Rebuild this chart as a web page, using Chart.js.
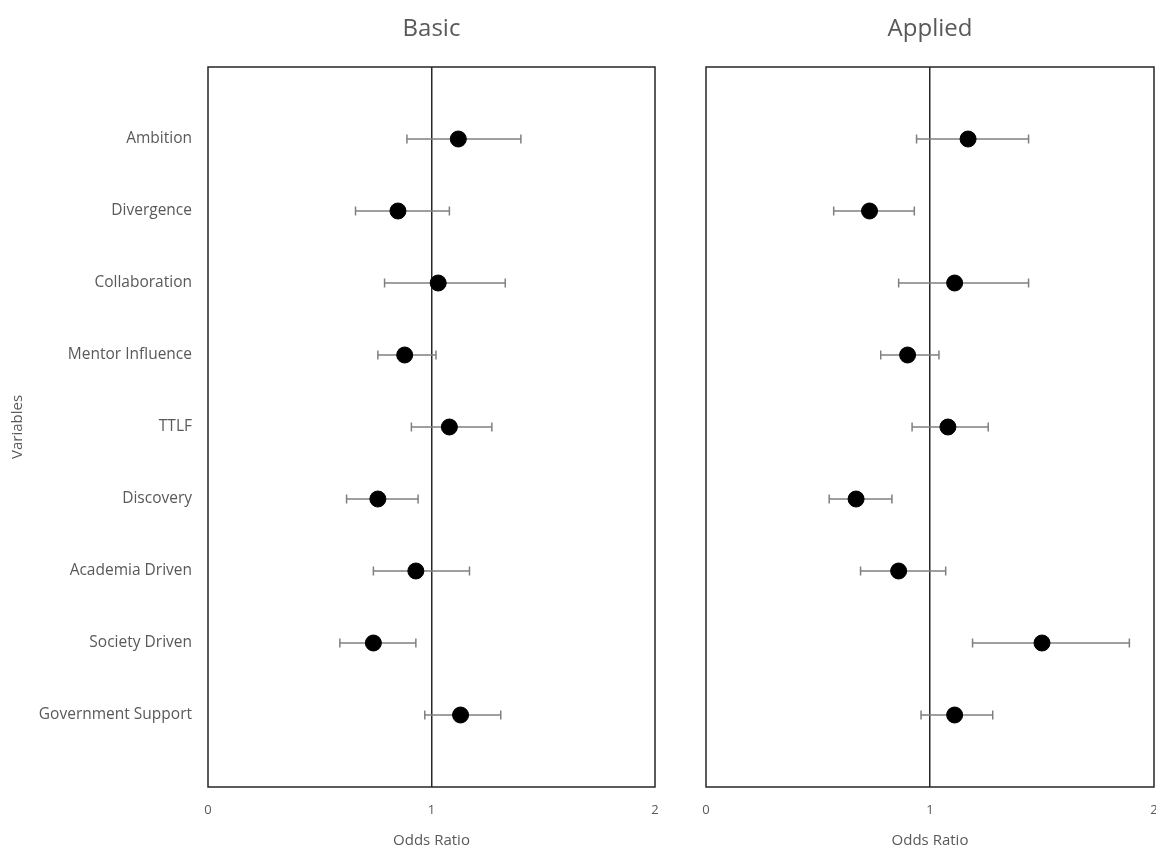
<!DOCTYPE html>
<html>
<head>
<meta charset="utf-8">
<script src="https://cdn.jsdelivr.net/npm/chart.js@4.4.1/dist/chart.umd.min.js"></script>
<style>
  html, body { margin: 0; padding: 0; background: #fff; overflow: hidden; }
  .wrap { position: relative; width: 1156px; height: 850px; overflow: hidden; }
  #basicWrap { position: absolute; left: 0; top: 0; width: 680px; height: 850px; }
  #appliedWrap { position: absolute; left: 680px; top: 0; width: 483px; height: 850px; }
  canvas { display: block; }
</style>
</head>
<body>
<div class="wrap">
  <div id="basicWrap"><canvas id="basicChart"></canvas></div>
  <div id="appliedWrap"><canvas id="appliedChart"></canvas></div>
</div>
<script>
const variables = ['Ambition', 'Divergence', 'Collaboration', 'Mentor Influence', 'TTLF',
  'Discovery', 'Academia Driven', 'Society Driven', 'Government Support'];
const xTicks = [0, 1, 2];

const basicOR = [1.12, 0.85, 1.03, 0.88, 1.08, 0.76, 0.93, 0.74, 1.13];
const basicLow = [0.89, 0.66, 0.79, 0.76, 0.91, 0.62, 0.74, 0.59, 0.97];
const basicHigh = [1.40, 1.08, 1.33, 1.02, 1.27, 0.94, 1.17, 0.93, 1.31];

const appliedOR = [1.17, 0.73, 1.11, 0.90, 1.08, 0.67, 0.86, 1.50, 1.11];
const appliedLow = [0.94, 0.57, 0.86, 0.78, 0.92, 0.55, 0.69, 1.19, 0.96];
const appliedHigh = [1.44, 0.93, 1.44, 1.04, 1.26, 0.83, 1.07, 1.89, 1.28];

const textColor = '#595959';
const fontFamily = '"Open Sans", Lato, sans-serif';

// box around the plot area
const frame = {
  id: 'frame',
  afterDraw(chart) {
    const { ctx, chartArea: a } = chart;
    ctx.save();
    ctx.strokeStyle = '#262626';
    ctx.lineWidth = 1.5;
    ctx.strokeRect(a.left, a.top, a.right - a.left, a.bottom - a.top);
    ctx.restore();
  }
};

const buildDatasets = (or, low, high) => {
  const bars = variables.map((name, i) => ({
    type: 'line',
    label: name,
    data: [{ x: low[i], y: i + 1 }, { x: high[i], y: i + 1 }],
    borderColor: '#7f7f7f',
    borderWidth: 1.5,
    pointStyle: 'line',
    rotation: 90,
    pointRadius: 4.5,
    pointBorderColor: '#7f7f7f',
    pointBorderWidth: 1.5,
    order: 2
  }));
  const points = {
    type: 'scatter',
    label: 'Odds Ratio',
    data: or.map((v, i) => ({ x: v, y: i + 1 })),
    backgroundColor: '#000',
    borderColor: '#000',
    pointRadius: 8,
    order: 1
  };
  return [points, ...bars];
};

const makeChart = (id, title, or, low, high, showY) => {
  const ctx = document.getElementById(id).getContext('2d');
  return new Chart(ctx, {
    type: 'scatter',
    data: { datasets: buildDatasets(or, low, high) },
    plugins: [frame],
    options: {
      responsive: true,
      maintainAspectRatio: false,
      animation: false,
      layout: {
        padding: showY ? { left: 0, right: 25, top: 0, bottom: 0 } : { left: 26, right: 2, top: 0, bottom: 0 }
      },
      plugins: {
        legend: { display: false },
        tooltip: { enabled: false }
      },
      scales: {
        // top axis only carries the panel title, centred over the plot area
        top: {
          type: 'linear',
          position: 'top',
          min: 0,
          max: 2,
          afterFit: (scale) => { scale.height = 67; },
          border: { display: false },
          grid: { display: false, drawTicks: false },
          ticks: { display: false },
          title: {
            display: true,
            text: title,
            color: textColor,
            font: { family: fontFamily, size: 24 },
            padding: { top: 15, bottom: 0 }
          }
        },
        x: {
          type: 'linear',
          position: 'bottom',
          min: 0,
          max: 2,
          afterBuildTicks: (scale) => { scale.ticks = xTicks.map((v) => ({ value: v })); },
          afterFit: (scale) => {
            scale.height = 63;
            scale.paddingLeft = 0;
            scale.paddingRight = 0;
          },
          border: { display: false },
          grid: {
            drawTicks: false,
            color: (c) => (c.tick && c.tick.value === 1 ? '#262626' : 'rgba(0,0,0,0)'),
            lineWidth: 1.5
          },
          ticks: {
            color: textColor,
            font: { family: fontFamily, size: 13 },
            padding: 15,
            maxRotation: 0
          },
          title: {
            display: true,
            text: 'Odds Ratio',
            color: textColor,
            font: { family: fontFamily, size: 15 },
            padding: { top: 0, bottom: 0 }
          }
        },
        y: {
          type: 'linear',
          display: showY,
          min: 0,
          max: 10,
          reverse: true,
          afterBuildTicks: (scale) => {
            scale.ticks = [0, ...variables.map((v, i) => i + 1), 10].map((v) => ({ value: v }));
          },
          afterFit: (scale) => { if (showY) scale.width = 208; },
          border: { display: false },
          grid: { display: false, drawTicks: false },
          ticks: {
            color: textColor,
            font: { family: fontFamily, size: 15.5 },
            padding: 16,
            callback: (v) => variables[v - 1] || ''
          },
          title: {
            display: true,
            text: 'Variables',
            color: textColor,
            font: { family: fontFamily, size: 15 },
            padding: { top: 9, bottom: 0 }
          }
        }
      }
    }
  });
};

makeChart('basicChart', 'Basic', basicOR, basicLow, basicHigh, true);
makeChart('appliedChart', 'Applied', appliedOR, appliedLow, appliedHigh, false);
</script>
</body>
</html>
